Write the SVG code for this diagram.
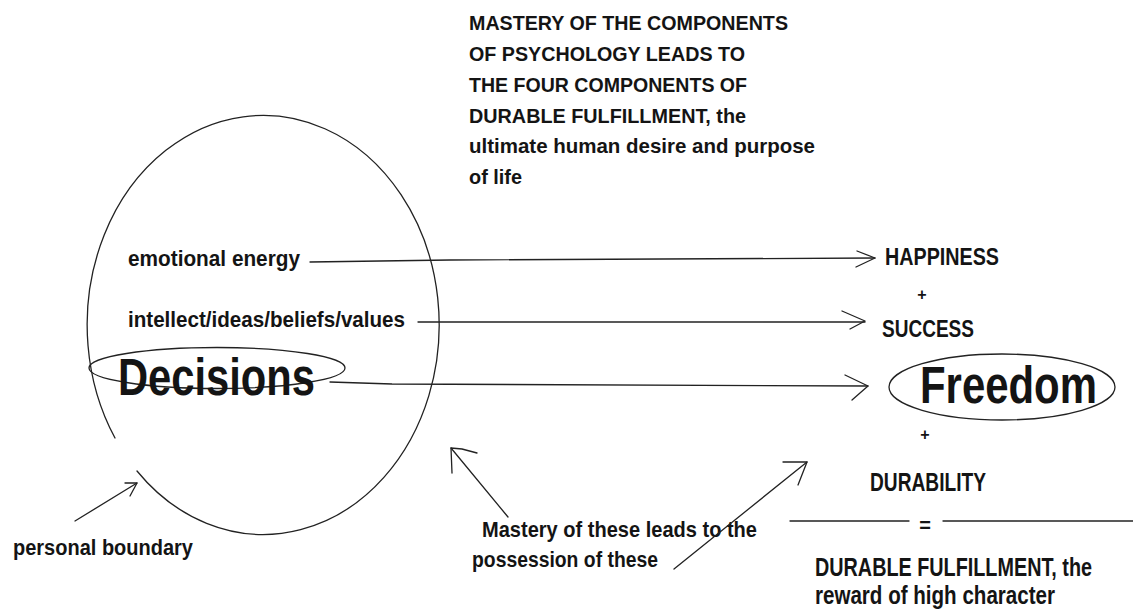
<svg xmlns="http://www.w3.org/2000/svg" width="1133" height="611" viewBox="0 0 1133 611">
<style>
  text { font-family: "Liberation Sans", Arial, sans-serif; font-weight: bold; fill: #141414; }
  .t { font-size: 21px; }
  .s { font-size: 22px; }
  .m { font-size: 23px; }
  .l { font-size: 25px; }
  .xl { font-size: 52px; }
  .ln { fill: none; stroke: #222; stroke-width: 1.3; stroke-linecap: round; stroke-linejoin: round; }
</style>
<rect width="1133" height="611" fill="#ffffff"/>

<g id="title">
  <text class="t" x="469" y="30" textLength="319" lengthAdjust="spacingAndGlyphs">MASTERY OF THE COMPONENTS</text>
  <text class="t" x="469" y="61" textLength="276" lengthAdjust="spacingAndGlyphs">OF PSYCHOLOGY LEADS TO</text>
  <text class="t" x="469" y="92" textLength="278" lengthAdjust="spacingAndGlyphs">THE FOUR COMPONENTS OF</text>
  <text class="t" x="469" y="123" textLength="277" lengthAdjust="spacingAndGlyphs">DURABLE FULFILLMENT, the</text>
  <text class="t" x="469" y="153" textLength="346" lengthAdjust="spacingAndGlyphs">ultimate human desire and purpose</text>
  <text class="t" x="469" y="184" textLength="53" lengthAdjust="spacingAndGlyphs">of life</text>
</g>

<g id="personal-boundary">
  <path class="ln" d="M 115 438 A 176 209.5 0 1 1 137 471"/>
</g>

<g id="emotional-energy">
  <text class="s" x="128" y="266" textLength="172" lengthAdjust="spacingAndGlyphs">emotional energy</text>
</g>

<g id="intellect">
  <text class="s" x="128" y="327" textLength="277" lengthAdjust="spacingAndGlyphs">intellect/ideas/beliefs/values</text>
</g>

<g id="decisions">
  <ellipse class="ln" cx="217" cy="368" rx="128" ry="20.5"/>
  <text class="xl" transform="scale(0.8 1)" x="147.5" y="395" textLength="246.25" lengthAdjust="spacingAndGlyphs">Decisions</text>
</g>

<g id="happiness">
  <text class="m" transform="scale(0.8 1)" x="1106.25" y="265" textLength="142.5" lengthAdjust="spacingAndGlyphs">HAPPINESS</text>
  <text x="922" y="300" font-size="16" text-anchor="middle">+</text>
</g>

<g id="success">
  <text class="m" transform="scale(0.8 1)" x="1102.5" y="337" textLength="115" lengthAdjust="spacingAndGlyphs">SUCCESS</text>
</g>

<g id="freedom">
  <ellipse class="ln" cx="1002" cy="387" rx="113" ry="33"/>
  <text class="xl" transform="scale(0.8 1)" x="1150" y="403" textLength="221.25" lengthAdjust="spacingAndGlyphs">Freedom</text>
  <text x="925" y="440" font-size="16" text-anchor="middle">+</text>
</g>

<g id="durability">
  <text class="l" transform="scale(0.8 1)" x="1087.5" y="491" textLength="145" lengthAdjust="spacingAndGlyphs">DURABILITY</text>
</g>

<g id="equation">
  <line class="ln" x1="790" y1="521" x2="909" y2="521"/>
  <text x="925" y="532" font-size="20" text-anchor="middle">=</text>
  <line class="ln" x1="943" y1="521" x2="1133" y2="521"/>
</g>

<g id="durable-fulfillment">
  <text class="l" transform="scale(0.8 1)" x="1018.75" y="576" textLength="346.25" lengthAdjust="spacingAndGlyphs">DURABLE FULFILLMENT, the</text>
  <text class="l" transform="scale(0.8 1)" x="1018.75" y="604" textLength="300" lengthAdjust="spacingAndGlyphs">reward of high character</text>
</g>

<g id="mastery-note">
  <text class="s" x="482" y="537" textLength="275" lengthAdjust="spacingAndGlyphs">Mastery of these leads to the</text>
  <text class="s" x="472" y="567" textLength="186" lengthAdjust="spacingAndGlyphs">possession of these</text>
</g>

<g id="boundary-label">
  <text class="s" x="13" y="555" textLength="180" lengthAdjust="spacingAndGlyphs">personal boundary</text>
</g>

<g id="connectors">
  <!-- emotional energy -> HAPPINESS -->
  <polyline class="ln" points="310,262 450,260 875,258"/>
  <polyline class="ln" points="857,251 875,258 856,267"/>
  <!-- intellect -> SUCCESS -->
  <line class="ln" x1="418" y1="322" x2="865" y2="322"/>
  <polyline class="ln" points="842,311 865,321 850,329"/>
  <!-- Decisions -> Freedom -->
  <polyline class="ln" points="330,382 392,384 868,386"/>
  <polyline class="ln" points="845,375 868,386 852,400"/>
  <!-- personal boundary pointer -->
  <line class="ln" x1="75" y1="521" x2="137" y2="483"/>
  <polyline class="ln" points="125,483 137,483 130,496"/>
  <!-- mastery -> circle -->
  <line class="ln" x1="508" y1="517" x2="451" y2="448"/>
  <polyline class="ln" points="477,453 462,449 451,448 452,473"/>
  <!-- possession -> outcomes -->
  <line class="ln" x1="674" y1="569" x2="807" y2="462"/>
  <polyline class="ln" points="783,462 807,462 798,485"/>
</g>
</svg>
